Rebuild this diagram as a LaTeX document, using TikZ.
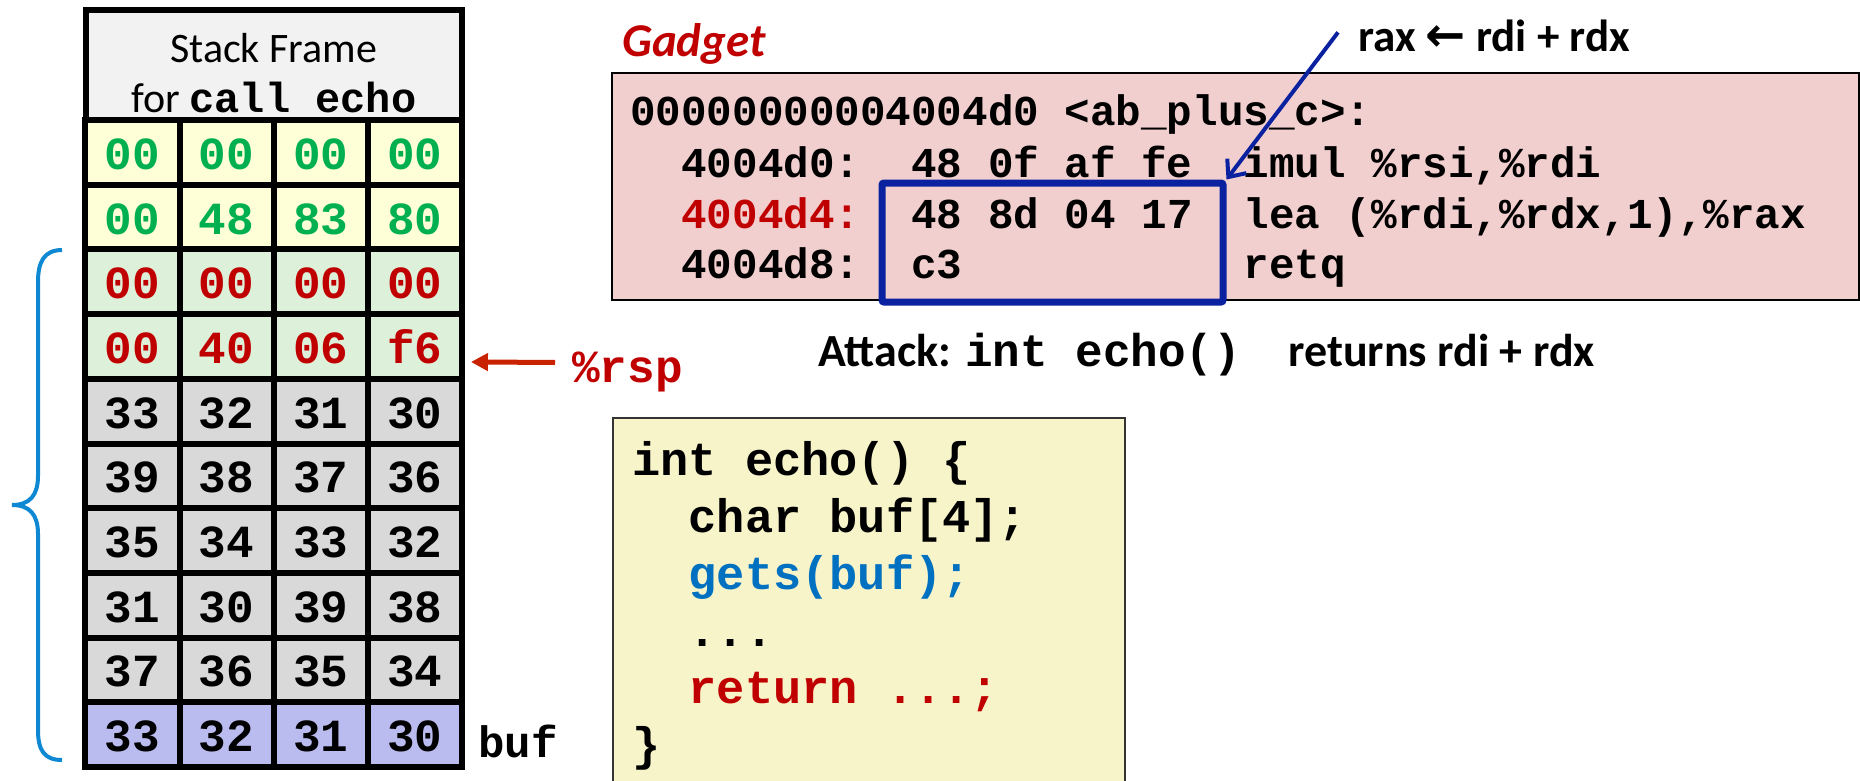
\documentclass[tikz,border=0pt]{standalone}
\usepackage{fontspec}
\setmainfont{Carlito}
\setmonofont{Liberation Mono}
\newfontfamily\arrowfont{DejaVu Sans}
\usepackage{tikz}
\usetikzlibrary{calc,arrows.meta,positioning}
\definecolor{hdrgray}{HTML}{F2F2F2}
\definecolor{stackyellow}{HTML}{FFFFD7}
\definecolor{stackgreen}{HTML}{DDF0DA}
\definecolor{stackgray}{HTML}{D9D9D9}
\definecolor{stacklav}{HTML}{BABBEE}
\definecolor{greentxt}{HTML}{00B050}
\definecolor{darkred}{HTML}{C00000}
\definecolor{rspred}{HTML}{C82200}
\definecolor{bracecol}{HTML}{0E88D3}
\definecolor{gadgetpink}{HTML}{F2CFCF}
\definecolor{selblue}{HTML}{0A22A0}
\definecolor{codeyellow}{HTML}{F7F4C9}
\definecolor{getsblue}{HTML}{0070C0}

\begin{document}
\begin{tikzpicture}[x=1pt,y=-1pt,
  cell/.style={draw=black, line width=6pt, minimum width=94.1pt, minimum height=64.7pt,
    inner sep=0pt, text height=34pt, text depth=0pt,
    font=\fontsize{46}{46}\selectfont\ttfamily\bfseries},
  yelcell/.style={cell, fill=stackyellow, text=greentxt},
  grncell/.style={cell, fill=stackgreen, text=darkred},
  graycell/.style={cell, fill=stackgray},
  bufcell/.style={cell, fill=stacklav},
  asmtext/.style={anchor=base west, inner sep=0pt, font=\fontsize{42.6}{42.6}\selectfont\ttfamily\bfseries},
  codetext/.style={anchor=base west, inner sep=0pt, font=\fontsize{47}{47}\selectfont\ttfamily\bfseries},
  rsparrow/.style={draw=rspred, line width=5pt, -{Triangle[length=17pt,width=17pt]}},
  selarrow/.style={draw=selblue, line width=4pt, -{Straight Barb[length=14pt,width=24pt]}}]
\useasboundingbox (0,0) rectangle (1860,781);

% stack frame
\node[draw=black, line width=6pt, fill=hdrgray, minimum width=376.5pt, minimum height=110pt, inner sep=0pt] (hdr) at (273.75,65) {};
\node[anchor=base, inner sep=0pt, font=\fontsize{42}{42}\selectfont] (hdrtop) at (273.75,63) {Stack Frame};
\node[anchor=base, inner sep=0pt, font=\fontsize{42}{42}\selectfont] (hdrbot) at (273.75,113) {for \texttt{\bfseries call echo}};
\node[yelcell] (r1c1) at (132.5,152.35) {00};
\node[yelcell] (r1c2) at (226.6,152.35) {00};
\node[yelcell] (r1c3) at (320.8,152.35) {00};
\node[yelcell] (r1c4) at (414.9,152.35) {00};
\node[yelcell] (r2c1) at (132.5,217.05) {00};
\node[yelcell] (r2c2) at (226.6,217.05) {48};
\node[yelcell] (r2c3) at (320.8,217.05) {83};
\node[yelcell] (r2c4) at (414.9,217.05) {80};
\node[grncell] (r3c1) at (132.5,281.75) {00};
\node[grncell] (r3c2) at (226.6,281.75) {00};
\node[grncell] (r3c3) at (320.8,281.75) {00};
\node[grncell] (r3c4) at (414.9,281.75) {00};
\node[grncell] (r4c1) at (132.5,346.45) {00};
\node[grncell] (r4c2) at (226.6,346.45) {40};
\node[grncell] (r4c3) at (320.8,346.45) {06};
\node[grncell] (r4c4) at (414.9,346.45) {f6};
\node[graycell] (r5c1) at (132.5,411.15) {33};
\node[graycell] (r5c2) at (226.6,411.15) {32};
\node[graycell] (r5c3) at (320.8,411.15) {31};
\node[graycell] (r5c4) at (414.9,411.15) {30};
\node[graycell] (r6c1) at (132.5,475.85) {39};
\node[graycell] (r6c2) at (226.6,475.85) {38};
\node[graycell] (r6c3) at (320.8,475.85) {37};
\node[graycell] (r6c4) at (414.9,475.85) {36};
\node[graycell] (r7c1) at (132.5,540.55) {35};
\node[graycell] (r7c2) at (226.6,540.55) {34};
\node[graycell] (r7c3) at (320.8,540.55) {33};
\node[graycell] (r7c4) at (414.9,540.55) {32};
\node[graycell] (r8c1) at (132.5,605.25) {31};
\node[graycell] (r8c2) at (226.6,605.25) {30};
\node[graycell] (r8c3) at (320.8,605.25) {39};
\node[graycell] (r8c4) at (414.9,605.25) {38};
\node[graycell] (r9c1) at (132.5,669.95) {37};
\node[graycell] (r9c2) at (226.6,669.95) {36};
\node[graycell] (r9c3) at (320.8,669.95) {35};
\node[graycell] (r9c4) at (414.9,669.95) {34};
\node[bufcell] (r10c1) at (132.5,734.65) {33};
\node[bufcell] (r10c2) at (226.6,734.65) {32};
\node[bufcell] (r10c3) at (320.8,734.65) {31};
\node[bufcell] (r10c4) at (414.9,734.65) {30};
\node[anchor=base west, inner sep=0pt, font=\fontsize{44}{44}\selectfont\ttfamily\bfseries] (buf) at (478,757) {buf};
\node[anchor=base west, inner sep=0pt, text=darkred, font=\fontsize{46}{46}\selectfont\ttfamily\bfseries] (rsp) at (572,382) {\%rsp};
\draw[rsparrow] ($(rsp.west)+(-17,-9)$) -- ($(r4c4.east)+(6,15.5)$);
% brace over the overwritten part
\draw[bracecol, line width=4pt] (62,250) .. controls (44,250) and (38,262) .. (38,282) -- (38,476)
  .. controls (38,495) and (30,505) .. (12,505) .. controls (30,505) and (38,515) .. (38,534)
  -- (38,730) .. controls (38,750) and (44,760) .. (62,760);

% gadget
\node[anchor=base west, inner sep=0pt, text=darkred, font=\fontsize{47}{47}\selectfont\bfseries\itshape] (gadgetlbl) at (622,57) {Gadget};
\node[draw=black, line width=2pt, fill=gadgetpink, minimum width=1247pt, minimum height=227pt, inner sep=0pt] (gadget) at (1235.5,186.5) {};
\node[asmtext] (asm1) at (630,126) {00000000004004d0~<ab\_plus\_c>:};
\node[asmtext] (asm2) at (630,177) {~~4004d0:~~48~0f~af~fe~~imul~\%rsi,\%rdi};
\node[asmtext] (asm3) at (630,228) {~~\textcolor{darkred}{4004d4:}~~48~8d~04~17~~lea~(\%rdi,\%rdx,1),\%rax};
\node[asmtext] (asm4) at (630,278) {~~4004d8:~~c3~~~~~~~~~~~retq};
\node[draw=selblue, line width=7pt, rounded corners=2pt, minimum width=341pt, minimum height=119pt, inner sep=0pt] (sel) at (1052.5,242.5) {};
\node[anchor=base west, inner sep=0pt, font=\fontsize{45}{45}\selectfont\bfseries] (raxnote) at (1358,52) {rax {\arrowfont\bfseries\fontsize{48}{48}\selectfont ←} rdi + rdx};
\draw[selarrow] ($(raxnote.west)+(-20,-4)$) -- (sel.north east);

% attack line
\node[anchor=base west, inner sep=0pt, font=\fontsize{46}{46}\selectfont\bfseries] (attack) at (818,366) {Attack: \texttt{int echo()~}\hspace{20pt}returns rdi + rdx};

% echo source
\node[draw=black!80, line width=2pt, fill=codeyellow, minimum width=512pt, minimum height=382pt, inner sep=0pt] (code) at (869,609) {};
\node[codetext] (c1) at (632,475) {int echo() \{};
\node[codetext] (c2) at (632,532) {~~char buf[4];};
\node[codetext, text=getsblue] (c3) at (632,589) {~~gets(buf);};
\node[codetext] (c4) at (632,646) {~~...};
\node[codetext, text=darkred] (c5) at (632,703) {~~return ...;};
\node[codetext] (c6) at (632,760) {\}};
\end{tikzpicture}
\end{document}
